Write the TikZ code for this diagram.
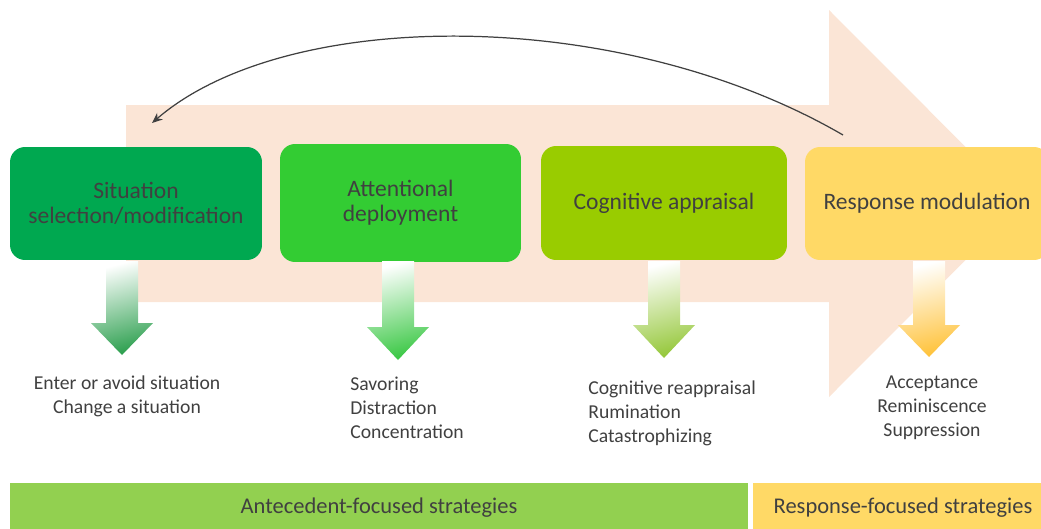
\documentclass[tikz,border=0pt]{standalone}
\usepackage{fontspec}
\setmainfont{Carlito}
\usetikzlibrary{arrows.meta}
\definecolor{peach}{RGB}{251,229,214}
\definecolor{txt}{RGB}{64,64,64}
\definecolor{selgreen}{RGB}{0,168,80}
\definecolor{attgreen}{RGB}{51,204,51}
\definecolor{cogreen}{RGB}{153,204,0}
\definecolor{respyellow}{RGB}{255,217,102}
\definecolor{antgreen}{RGB}{146,208,80}
\definecolor{arrsel}{RGB}{46,160,80}
\definecolor{arratt}{RGB}{60,200,70}
\definecolor{arrcog}{RGB}{150,200,60}
\definecolor{arrresp}{RGB}{255,195,60}
\tikzset{
  stage/.style={rounded corners=0.3cm, align=center, text=txt, inner sep=0pt,
    font=\fontsize{13.4}{14.2}\selectfont},
  strat/.style={inner sep=0pt, text=txt, font=\fontsize{11.2}{13.7}\selectfont},
  group/.style={inner sep=0pt, text=txt, minimum height=1cm, font=\fontsize{12.8}{14}\selectfont}
}
% down arrow: colour, centre x, head top y, tip y
\newcommand{\stratarrow}[4]{%
  \shade[top color=white, bottom color=#1, shading angle=15]
    ({#2-16},261) -- ({#2+16},261) -- ({#2+16},#3) -- ({#2+31},#3)
    -- (#2,#4) -- ({#2-31},#3) -- ({#2-16},#3) -- cycle;}

\begin{document}
\begin{tikzpicture}[x=0.02cm, y=-0.02cm]
			%%%%% START %%%%%
			\useasboundingbox (0,0) rectangle (1041,528);
			
			% big process arrow
			\fill[peach] (126,105) -- (829,105) -- (829,10) -- (1022,203.5)
			  -- (829,397) -- (829,302) -- (126,302) -- cycle;
			
			% stages
			\node[stage, fill=selgreen, minimum width=5.04cm, minimum height=2.26cm] (sel) at (136,203.5) {Situation\\selection/modification};
			\node[stage, fill=attgreen, minimum width=4.82cm, minimum height=2.36cm] (att) at (400.5,203) {Attentional\\deployment};
			\node[stage, fill=cogreen, minimum width=4.92cm, minimum height=2.28cm] (cog) at (664,203) {Cognitive appraisal};
			\node[stage, fill=respyellow, minimum width=4.88cm, minimum height=2.26cm] (resp) at (927,203.5) {Response modulation};
			
			% feedback
			\coordinate (fbstart) at (843,135);
			\coordinate (fbend) at (152,123);
			\draw[txt, line width=0.7pt, -{Stealth[length=6pt, width=5pt]}] (fbstart) .. controls (621,6) and (288,6) .. (fbend);
			
			% strategy arrows
			\stratarrow{arrsel}{122}{323}{355}
			\stratarrow{arratt}{398}{327}{360}
			\stratarrow{arrcog}{664}{325}{358}
			\stratarrow{arrresp}{929}{325}{357}
			
			% strategies
			\node[strat, align=center] (lsel) at (127,396) {Enter or avoid situation\\Change a situation};
			\node[strat, align=left, anchor=west] (latt) at (350,408) {Savoring\\Distraction\\Concentration};
			\node[strat, align=left, anchor=west] (lcog) at (588,413) {Cognitive reappraisal\\Rumination\\Catastrophizing};
			\node[strat, align=center] (lresp) at (932,408) {Acceptance\\Reminiscence\\Suppression};
			
			% groups
			\node[group, fill=antgreen, minimum width=14.76cm] (ante) at (379,508) {Antecedent-focused strategies};
			\node[group, fill=respyellow, minimum width=6cm] (rfoc) at (903,508) {Response-focused strategies};
			
			%%%%% END %%%%%
		\end{tikzpicture}
\end{document}
